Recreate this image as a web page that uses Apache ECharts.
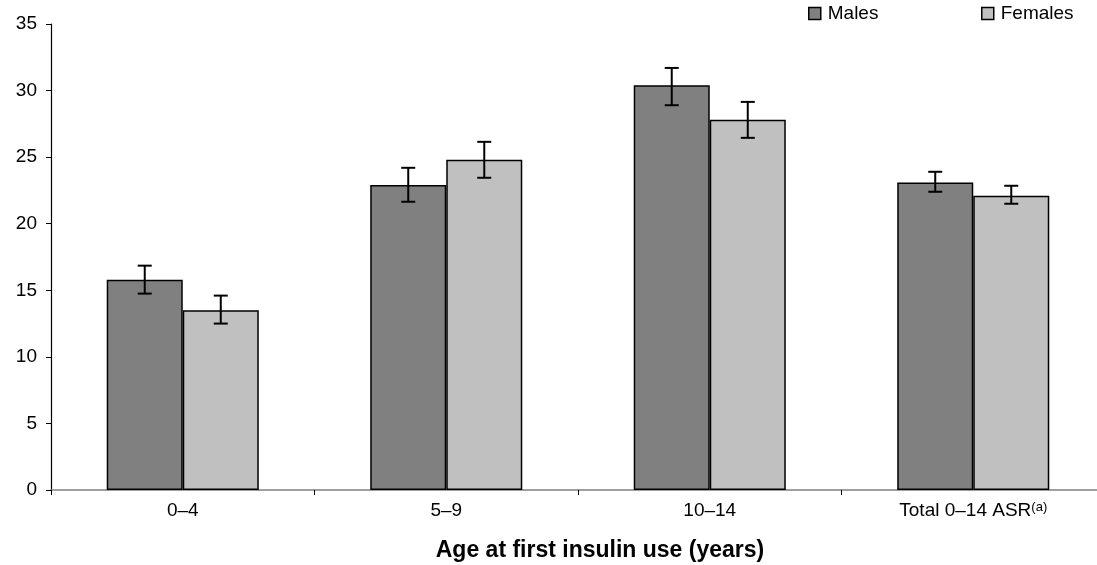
<!DOCTYPE html>
<html>
<head>
<meta charset="utf-8">
<script src="https://cdn.jsdelivr.net/npm/echarts@6/dist/echarts.min.js"></script>
<style>
  html, body { margin: 0; padding: 0; background: #fff; overflow: hidden; }
  #wrap { width: 1097px; height: 565px; overflow: hidden; position: relative; }
  #chart { width: 1112px; height: 565px; position: absolute; left: 0; top: 0; }
</style>
</head>
<body>
<div id="wrap"><div id="chart"></div></div>
<script>
const categories = ["0–4", "5–9", "10–14", "Total 0–14 ASR"];
const males = [15.8, 22.9, 30.4, 23.1];
const females = [13.5, 24.8, 27.8, 22.1];
const malesLow = [14.75, 21.65, 28.9, 22.4];
const malesHigh = [16.85, 24.2, 31.7, 23.9];
const femalesLow = [12.5, 23.45, 26.45, 21.5];
const femalesHigh = [14.6, 26.15, 29.15, 22.85];

(() => {
  let myChart = echarts.init(document.querySelector("#chart"));
  const font = "Liberation Sans, Arial, sans-serif";
  const catGap = 0.423;

  // error bars, shifted onto the matching bar of each pair
  const errorSeries = (name, low, high, side) => ({
    type: "custom",
    name: name + " CI",
    z: 5,
    silent: true,
    data: categories.map((c, i) => [i, low[i], high[i]]),
    renderItem: (params, api) => {
      const band = api.size([1, 0])[0];
      const shift = side * band * (1 - catGap) / 4;
      const lo = api.coord([api.value(0), api.value(1)]);
      const hi = api.coord([api.value(0), api.value(2)]);
      const x = lo[0] + shift;
      const cap = 7;
      const style = { stroke: "#000", lineWidth: 2 };
      return {
        type: "group",
        children: [
          { type: "line", shape: { x1: x, y1: lo[1], x2: x, y2: hi[1] }, style },
          { type: "line", shape: { x1: x - cap, y1: lo[1], x2: x + cap, y2: lo[1] }, style },
          { type: "line", shape: { x1: x - cap, y1: hi[1], x2: x + cap, y2: hi[1] }, style },
        ],
      };
    },
  });

  const legendBase = {
    top: 3,
    padding: [1, 5],
    icon: "rect",
    itemWidth: 12,
    itemHeight: 12,
    itemGap: 0,
    textStyle: { color: "#000", fontSize: 19, fontFamily: font, padding: [0, 0, 0, 2] },
  };

  let option = {
    animation: false,
    backgroundColor: "#fff",
    legend: [
      Object.assign({ left: 803, data: [{ name: "Males", itemStyle: { borderColor: "#000", borderWidth: 1.5 } }] }, legendBase),
      Object.assign({ left: 976, data: [{ name: "Females", itemStyle: { borderColor: "#000", borderWidth: 1.5 } }] }, legendBase),
    ],
    grid: { left: 51, top: 24, width: 1054, height: 466, outerBoundsMode: "none", containLabel: false },
    xAxis: {
      type: "category",
      data: categories,
      name: "Age at first insulin use (years)",
      nameLocation: "middle",
      nameGap: 49,
      nameTextStyle: { color: "#000", fontSize: 23, fontWeight: "bold", fontFamily: font, padding: [0, 0, 0, 44] },
      axisLine: { lineStyle: { color: "#808080", width: 1.5 } },
      axisTick: { show: true, length: 5, lineStyle: { color: "#000" } },
      axisLabel: {
        interval: 0,
        color: "#000",
        fontSize: 19,
        fontFamily: font,
        margin: 11,
        formatter: (v) => (v.indexOf("Total") === 0 ? v + "{sup|(a)}" : v),
        rich: { sup: { fontSize: 13, fontFamily: font, color: "#000", verticalAlign: "top", padding: [0, 0, 7, 0] } },
      },
    },
    yAxis: {
      type: "value",
      min: 0,
      max: 35,
      interval: 5,
      axisLine: { show: true, lineStyle: { color: "#000", width: 1.2 } },
      axisTick: { show: true, length: 5, lineStyle: { color: "#000" } },
      splitLine: { show: false },
      axisLabel: { color: "#000", fontSize: 19, fontFamily: font, margin: 14 },
    },
    series: [
      {
        name: "Males",
        type: "bar",
        data: males,
        barGap: "0%",
        barCategoryGap: catGap * 100 + "%",
        itemStyle: { color: "#808080", borderColor: "#000", borderWidth: 1.5 },
      },
      {
        name: "Females",
        type: "bar",
        data: females,
        itemStyle: { color: "#c0c0c0", borderColor: "#000", borderWidth: 1.5 },
      },
      errorSeries("Males", malesLow, malesHigh, -1),
      errorSeries("Females", femalesLow, femalesHigh, 1),
    ],
  };
  myChart.setOption(option);
  window.addEventListener("resize", () => {
    myChart.resize();
  });
})();
</script>
</body>
</html>
